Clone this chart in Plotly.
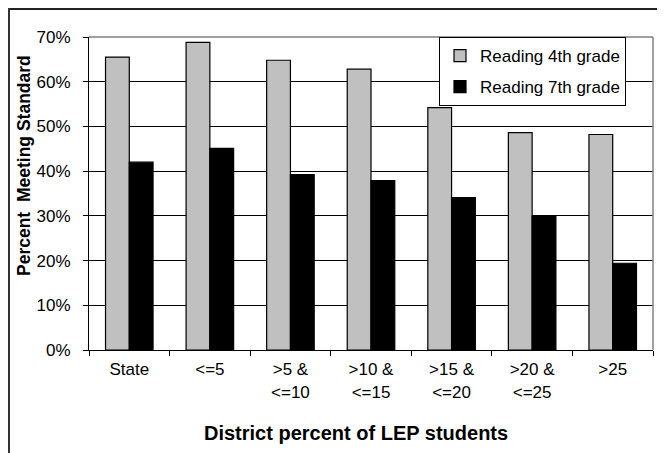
import plotly.graph_objects as go

categories = ["State", "&lt;=5", "&gt;5 &amp;<br>&lt;=10", "&gt;10 &amp;<br>&lt;=15",
              "&gt;15 &amp;<br>&lt;=20", "&gt;20 &amp;<br>&lt;=25", "&gt;25"]
reading_4th = [65.5, 68.8, 64.8, 62.8, 54.2, 48.6, 48.2]
reading_7th = [42.0, 45.1, 39.2, 37.9, 34.1, 30.0, 19.4]
y_ticks = [0, 10, 20, 30, 40, 50, 60, 70]
y_tick_labels = ["0%", "10%", "20%", "30%", "40%", "50%", "60%", "70%"]

# page body has an 8px margin; work in reference pixel coords and offset
OFF = 8
W, H = 665 - OFF, 453 - OFF
L, T = 89 - OFF, 37 - OFF
R = W - (653 - OFF)
B = H - (350 - OFF)
pw, ph = W - L - R, H - T - B

def px_x(x):
    return (x - OFF - L) / pw

def px_y(y):
    return (H - B - (y - OFF)) / ph

font = dict(family="Liberation Sans, Arial, sans-serif", size=17, color="black")

fig = go.Figure()
fig.add_trace(go.Bar(x=categories, y=reading_4th, name="Reading 4th grade", legendgroup="a",
                     marker=dict(color="#C0C0C0", line=dict(color="black", width=1.2))))
fig.add_trace(go.Bar(x=categories, y=reading_7th, name="Reading 7th grade", legendgroup="b",
                     marker=dict(color="#000000", line=dict(color="black", width=1.2))))

fig.update_layout(
    width=W, height=H,
    margin=dict(l=L, r=R, t=T, b=B, pad=0),
    paper_bgcolor="white", plot_bgcolor="white",
    font=font,
    barmode="group", bargap=0.41, bargroupgap=0,
    showlegend=True,
    legend=dict(x=px_x(439), y=1.0, xanchor="left", yanchor="top",
                bgcolor="white", bordercolor="black", borderwidth=1,
                font=dict(size=17), itemwidth=30, tracegroupgap=6),
    xaxis=dict(type="category", tickson="boundaries", ticks="outside", ticklen=5,
               tickcolor="black", showline=True, linecolor="black", linewidth=1,
               showgrid=False, tickfont=dict(size=17), ticklabelstandoff=4),
    yaxis=dict(range=[0, 70], tickvals=y_ticks, ticktext=y_tick_labels, ticks="outside",
               ticklen=5, tickcolor="black", showline=True, linecolor="black",
               linewidth=1, showgrid=True, gridcolor="black", gridwidth=1,
               zeroline=False, tickfont=dict(size=17), ticklabelstandoff=9),
    shapes=[
        dict(type="line", xref="paper", yref="paper", x0=0, x1=1, y0=1, y1=1,
             line=dict(color="#808080", width=1.5), layer="above"),
        dict(type="line", xref="paper", yref="paper", x0=1, x1=1, y0=0, y1=1,
             line=dict(color="#808080", width=1.5), layer="above"),
        dict(type="line", xref="paper", yref="paper", x0=px_x(OFF), x1=px_x(665),
             y0=px_y(OFF + 1), y1=px_y(OFF + 1), line=dict(color="#222", width=2)),
        dict(type="line", xref="paper", yref="paper", x0=px_x(OFF + 1), x1=px_x(OFF + 1),
             y0=px_y(OFF), y1=px_y(453), line=dict(color="#333", width=2)),
    ],
    annotations=[
        dict(text="<b>District percent of LEP students</b>", xref="paper", yref="paper",
             x=px_x(356), y=px_y(433), xanchor="center", yanchor="middle",
             showarrow=False, font=dict(size=20)),
        dict(text="<b>Percent  Meeting Standard</b>", xref="paper", yref="paper",
             x=px_x(24), y=px_y(166), xanchor="center", yanchor="middle",
             textangle=-90, showarrow=False, font=dict(size=17.5)),
    ],
)

fig.write_html("out.html")
